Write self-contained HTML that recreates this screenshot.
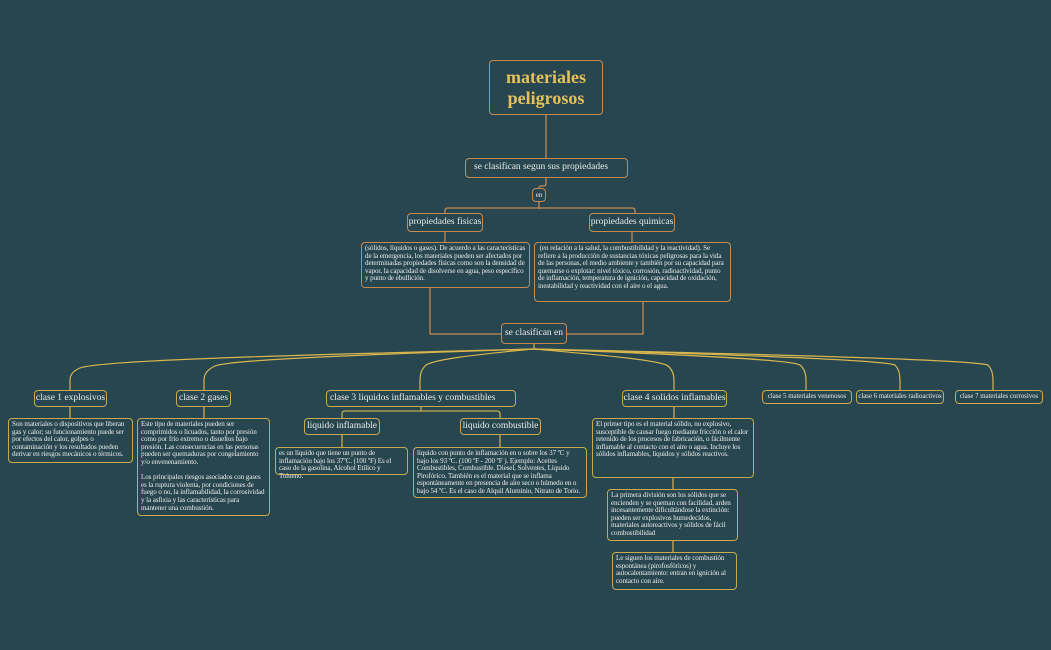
<!DOCTYPE html>
<html><head><meta charset="utf-8"><style>
html,body{margin:0;padding:0}
body{width:1051px;height:650px;background:#27464f;position:relative;overflow:hidden;font-family:"Liberation Serif",serif;color:#ececec}
.b{position:absolute;box-sizing:border-box;border:1.5px solid #c9a94e;border-radius:4px;background:#27464f}
.o{border-color:#c48a52}
.l{font-size:9.5px;line-height:1;display:flex;align-items:center;justify-content:center;white-space:nowrap}
.d{font-size:7.1px;line-height:7.6px;padding:2px 3px;letter-spacing:-0.1px}
svg{position:absolute;left:0;top:0}
</style></head><body>
<svg width="1051" height="650" fill="none">
<g stroke="#c48a52" stroke-width="1.3">
<path d="M546 115V158"/>
<path d="M546 178V184Q546 186 543 186H541Q539 186 539 188"/>
<path d="M539 202V209"/>
<path d="M445 213V211Q445 208 448 208H632Q635 208 635 211V213"/>
<path d="M445 232V242M632 232V242"/>
<path d="M430 288V334H501M643 302V334H567"/>
</g>
<g stroke="#d8b64e" stroke-width="1.2">
<path d="M534 344V349"/>
<path d="M534 349C300 355 100 360 80 368Q70 372 70 380V390"/>
<path d="M534 349C350 355 230 360 215 366Q204 371 204 380V390"/>
<path d="M534 349C470 355 430 360 425 366Q420 371 420 380V390"/>
<path d="M534 349C600 355 660 360 668 366Q674 371 674 380V390"/>
<path d="M534 349C700 355 790 360 800 365Q806 370 806 380V390"/>
<path d="M534 349C750 355 880 360 895 365Q900 370 900 380V390"/>
<path d="M534 349C800 355 970 360 988 365Q993 370 993 380V390"/>
</g>
<g stroke="#c9a94e" stroke-width="1.3">
<path d="M70 407V418M204 407V418M674 407V418"/>
<path d="M421 407V411M342 418V414Q342 411 345 411H497Q500 411 500 414V418"/>
<path d="M342 435V447M500 435V447"/>
<path d="M673 478V489M673 541V552"/>
</g>
</svg>
<div class="b o" style="left:489px;top:60px;width:114px;height:55px;display:flex;align-items:center;justify-content:center;text-align:center;color:#e6c15a;font-weight:bold;font-size:18px;line-height:21px">materiales<br>peligrosos</div>
<div class="b o l" style="left:465px;top:158px;width:163px;height:20px;justify-content:flex-start;padding-left:8px">se clasifican segun sus propiedades</div>
<div class="b o l" style="left:532px;top:188px;width:14px;height:14px;font-size:7px">en</div>
<div class="b o l" style="left:407px;top:213px;width:76px;height:19px">propiedades fisicas</div>
<div class="b o l" style="left:589px;top:213px;width:86px;height:19px">propiedades quimicas</div>
<div class="b o d" style="left:361px;top:242px;width:169px;height:46px">(sólidos, líquidos o gases). De acuerdo a las características de la emergencia, los materiales pueden ser afectados por determinadas propiedades físicas como son la densidad de vapor, la capacidad de disolverse en agua, peso específico y punto de ebullición.</div>
<div class="b o d" style="left:534px;top:242px;width:197px;height:60px">&nbsp;(en relación a la salud, la combustibilidad y la reactividad). Se refiere a la producción de sustancias tóxicas peligrosas para la vida de las personas, el medio ambiente y también por su capacidad para quemarse o explotar: nivel tóxico, corrosión, radioactividad, punto de inflamación, temperatura de ignición, capacidad de oxidación, inestabilidad y reactividad con el aire o el agua.</div>
<div class="b o l" style="left:501px;top:323px;width:66px;height:21px">se clasifican en</div>
<div class="b l" style="left:34px;top:390px;width:73px;height:17px">clase 1 explosivos</div>
<div class="b l" style="left:176px;top:390px;width:55px;height:17px">clase 2 gases</div>
<div class="b l" style="left:326px;top:390px;width:190px;height:17px;justify-content:flex-start;padding-left:3px">clase 3 liquidos inflamables y combustibles</div>
<div class="b l" style="left:622px;top:390px;width:105px;height:17px">clase 4 solidos inflamables</div>
<div class="b l" style="left:762px;top:390px;width:90px;height:14px;font-size:6.8px">clase 5 materiales venenosos</div>
<div class="b l" style="left:856px;top:390px;width:88px;height:14px;font-size:6.8px">clase 6 materiales radioactivos</div>
<div class="b l" style="left:955px;top:390px;width:88px;height:14px;font-size:6.8px">clase 7 materiales corrosivos</div>
<div class="b d" style="left:8px;top:418px;width:125px;height:45px">Son materiales o dispositivos que liberan gas y calor; su funcionamiento puede ser por efectos del calor, golpes o contaminación y los resultados pueden derivar en riesgos mecánicos o térmicos.</div>
<div class="b d" style="left:137px;top:418px;width:133px;height:98px">Este tipo de materiales pueden ser comprimidos o licuados, tanto por presión como por frío extremo o disueltos bajo presión. Las consecuencias en las personas pueden ser quemaduras por congelamiento y/o envenenamiento.<br><br>Los principales riesgos asociados con gases es la ruptura violenta, por condiciones de fuego o no, la inflamabilidad, la corrosividad y la asfixia y las características para mantener una combustión.</div>
<div class="b l" style="left:304px;top:418px;width:76px;height:17px">liquido inflamable</div>
<div class="b l" style="left:460px;top:418px;width:81px;height:17px">liquido combustible</div>
<div class="b d" style="left:275px;top:447px;width:133px;height:28px">es un líquido que tiene un punto de inflamación bajo los 37ºC. (100 ºF) Es el caso de la gasolina, Alcohol Etílico y Tolueno.</div>
<div class="b d" style="left:413px;top:447px;width:174px;height:51px">líquido con punto de inflamación en o sobre los 37 ºC y bajo los 93 ºC. (100 ºF - 200 ºF ). Ejemplo: Aceites Combustibles, Combustible. Diesel, Solventes, Líquido Pirofórico. También es el material que se inflama espontáneamente en presencia de aire seco o húmedo en o bajo 54 ºC. Es el caso de Alquil Aluminio, Nitrato de Torio.</div>
<div class="b d" style="left:592px;top:418px;width:162px;height:60px">El primer tipo es el material sólido, no explosivo, susceptible de causar fuego mediante fricción o el calor retenido de los procesos de fabricación, o fácilmente inflamable al contacto con el aire o agua. Incluye los sólidos inflamables, líquidos y sólidos reactivos.</div>
<div class="b d" style="left:607px;top:489px;width:131px;height:52px">La primera división son los sólidos que se encienden y se queman con facilidad, arden incesantemente dificultándose la extinción: pueden ser explosivos humedecidos, materiales autoreactivos y sólidos de fácil combustibilidad</div>
<div class="b d" style="left:612px;top:552px;width:125px;height:38px">Le siguen los materiales de combustión espontánea (pirofosfóricos) y autocalentamiento: entran en ignición al contacto con aire.</div>
</body></html>
